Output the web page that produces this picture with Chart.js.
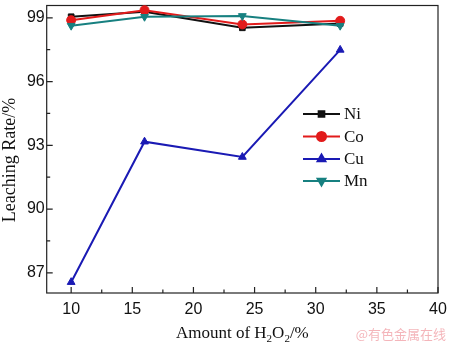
<!DOCTYPE html>
<html>
<head>
<meta charset="utf-8">
<script src="https://cdn.jsdelivr.net/npm/chart.js@4.4.1/dist/chart.umd.min.js"></script>
<style>
  html, body { margin: 0; padding: 0; background: #fff; }
  #wrap { width: 450px; height: 347px; position: relative; }
</style>
</head>
<body>
<div id="wrap"><canvas id="leachChart"></canvas></div>
<script>
// H2O2 dosage (%) and leaching rates (%) for each metal
const amounts = [10, 16, 24, 32];
const niRate = [99.05, 99.28, 98.53, 98.73];
const coRate = [98.89, 99.36, 98.69, 98.86];
const cuRate = [86.56, 93.17, 92.45, 97.49];
const mnRate = [98.63, 99.05, 99.09, 98.63];

const xTicks = [10, 15, 20, 25, 30, 35, 40];
const yTicks = [87, 90, 93, 96, 99];

const SANS = '"Liberation Sans", Arial, sans-serif';
const SERIF = '"Liberation Serif", "Times New Roman", serif';

function points(ys) {
    return amounts.map((x, i) => ({ x: x, y: ys[i] }));
}

function series(label, ys, color, style, rotation, order) {
    return {
        label: label,
        data: points(ys),
        borderColor: color,
        backgroundColor: color,
        borderWidth: 2,
        pointStyle: style,
        pointRotation: rotation,
        pointRadius: style === 'rect' ? 4 : 4.5,
        pointBorderWidth: 1,
        tension: 0,
        clip: false,
        order: order
    };
}

// frame, inward ticks (major + minor), axis titles, legend and watermark
const decorations = {
    id: 'decorations',
    beforeDatasetsDraw(chart) {
        const { ctx, chartArea: a, scales } = chart;
        ctx.save();
        ctx.strokeStyle = '#222';
        ctx.lineWidth = 1.2;
        ctx.strokeRect(a.left, a.top, a.right - a.left, a.bottom - a.top);

        ctx.beginPath();
        for (let v = 10; v <= 40; v += 2.5) {
            const px = scales.x.getPixelForValue(v);
            const len = v % 5 === 0 ? 6 : 3.5;
            ctx.moveTo(px, a.bottom);
            ctx.lineTo(px, a.bottom - len);
        }
        for (let v = 87; v <= 99; v += 1.5) {
            const py = scales.y.getPixelForValue(v);
            const len = v % 3 === 0 ? 6 : 3.5;
            ctx.moveTo(a.left, py);
            ctx.lineTo(a.left + len, py);
        }
        ctx.stroke();
        ctx.restore();
    },
    afterDraw(chart) {
        const { ctx, chartArea: a } = chart;
        ctx.save();
        ctx.fillStyle = '#111';

        // x title with subscripts: Amount of H2O2/%
        const parts = [['Amount of H', false], ['2', true], ['O', false], ['2', true], ['/%', false]];
        const big = '17px ' + SERIF, small = '11px ' + SERIF;
        let total = 0;
        parts.forEach(([t, sub]) => { ctx.font = sub ? small : big; total += ctx.measureText(t).width; });
        let x = (a.left + a.right) / 2 - total / 2;
        const base = 337.5;
        ctx.textBaseline = 'alphabetic';
        ctx.textAlign = 'left';
        parts.forEach(([t, sub]) => {
            ctx.font = sub ? small : big;
            ctx.fillText(t, x, sub ? base + 4 : base);
            x += ctx.measureText(t).width;
        });

        // y title
        ctx.save();
        ctx.translate(15, 160);
        ctx.rotate(-Math.PI / 2);
        ctx.font = '18px ' + SERIF;
        ctx.textAlign = 'center';
        ctx.fillText('Leaching Rate/%', 0, 0);
        ctx.restore();

        // legend inside the plot area
        const rowY = [114, 136.5, 159, 181];
        chart.data.datasets.forEach((ds, i) => {
            const y = rowY[i];
            ctx.strokeStyle = ds.borderColor;
            ctx.lineWidth = 2;
            ctx.beginPath();
            ctx.moveTo(303, y);
            ctx.lineTo(340, y);
            ctx.stroke();
            Chart.helpers.drawPoint(ctx, {
                pointStyle: ds.pointStyle,
                rotation: ds.pointRotation,
                radius: ds.pointRadius,
                borderWidth: 1
            }, 321.5, y);
            ctx.fillStyle = ds.borderColor;
            ctx.fill();
            ctx.fillStyle = '#111';
            ctx.font = '17px ' + SERIF;
            ctx.textBaseline = 'middle';
            ctx.fillText(ds.label, 344, y + 1);
        });

        // source watermark
        ctx.font = '13px "Noto Sans CJK SC", sans-serif';
        ctx.fillStyle = 'rgba(235,120,130,0.55)';
        ctx.textAlign = 'right';
        ctx.textBaseline = 'middle';
        ctx.fillText('@有色金属在线', 446, 334);
        ctx.restore();
    }
};

new Chart(document.getElementById('leachChart').getContext('2d'), {
    type: 'line',
    data: {
        datasets: [
            series('Ni', niRate, '#111111', 'rect', 0, 3),
            series('Co', coRate, '#e21b1b', 'circle', 0, 2),
            series('Cu', cuRate, '#1a1ab4', 'triangle', 0, 1),
            series('Mn', mnRate, '#178080', 'triangle', 180, 0)
        ]
    },
    options: {
        responsive: true,
        maintainAspectRatio: false,
        animation: false,
        layout: { padding: { top: 3.5, right: 12, left: 0, bottom: 0 } },
        plugins: {
            legend: { display: false },
            tooltip: { enabled: false }
        },
        scales: {
            x: {
                type: 'linear',
                min: 8,
                max: 40,
                grid: { display: false, drawTicks: false, tickLength: 0 },
                border: { display: false },
                afterBuildTicks: (scale) => { scale.ticks = xTicks.map(v => ({ value: v })); },
                afterFit: (scale) => {
                    scale.height = 54;
                    scale.paddingLeft = 0;
                    scale.paddingRight = 0;
                },
                ticks: {
                    padding: 7,
                    color: '#111',
                    font: { family: SANS, size: 16 },
                    maxRotation: 0
                }
            },
            y: {
                type: 'linear',
                min: 86.05,
                max: 99.58,
                grid: { display: false, drawTicks: false, tickLength: 0 },
                border: { display: false },
                afterBuildTicks: (scale) => { scale.ticks = yTicks.map(v => ({ value: v })); },
                afterFit: (scale) => {
                    scale.width = 46.7;
                    scale.paddingTop = 0;
                    scale.paddingBottom = 0;
                },
                ticks: {
                    padding: 2,
                    color: '#111',
                    font: { family: SANS, size: 16 }
                }
            }
        }
    },
    plugins: [decorations]
});
</script>
</body>
</html>
